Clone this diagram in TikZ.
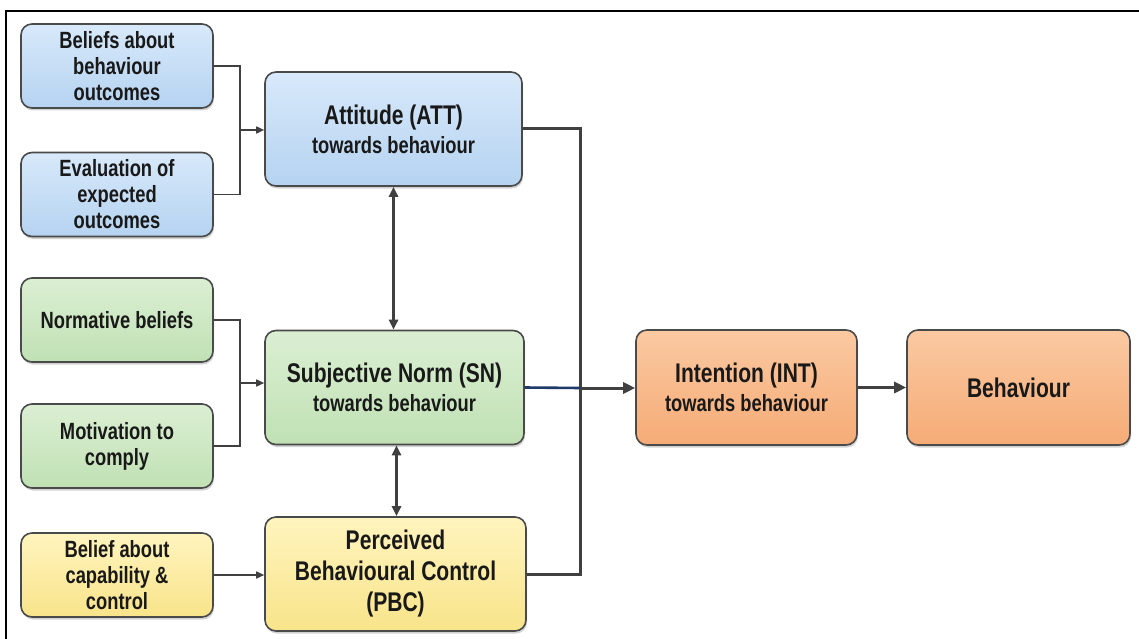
\documentclass[tikz,border=0pt]{standalone}
\usepackage{fontspec}
\setmainfont{Liberation Sans}[FakeStretch=0.78]
\usetikzlibrary{arrows.meta,shadows,calc}

\definecolor{edge}{HTML}{4A4A4A}
\definecolor{wire}{HTML}{404040}
\definecolor{navy}{HTML}{1F3A68}
\definecolor{blueA}{HTML}{D8E9FA}
\definecolor{blueB}{HTML}{B5D3F1}
\definecolor{greenA}{HTML}{DBEFD3}
\definecolor{greenB}{HTML}{C0E1B4}
\definecolor{yellowA}{HTML}{FFF4BE}
\definecolor{yellowB}{HTML}{F8E48A}
\definecolor{orangeA}{HTML}{FBC9A2}
\definecolor{orangeB}{HTML}{F5AB76}

\tikzset{
  box/.style={draw=edge, line width=1.6pt, rounded corners=11pt, align=center,
    text=black!90,
    drop shadow={shadow xshift=1pt, shadow yshift=-2.5pt, opacity=0.35}},
  smallbox/.style={box, minimum width=192pt, minimum height=84pt,
    font=\bfseries\fontsize{23.5}{26}\selectfont},
  bigbox/.style={box, minimum height=114pt},
  twoline/.style={font=\bfseries\fontsize{23.5}{29}\selectfont},
  oneline/.style={font=\bfseries\fontsize{27}{31}\selectfont},
  blue/.style={top color=blueA, bottom color=blueB},
  green/.style={top color=greenA, bottom color=greenB},
  yellow/.style={top color=yellowA, bottom color=yellowB},
  orange/.style={top color=orangeA, bottom color=orangeB},
  thinwire/.style={draw=wire, line width=1.6pt},
  thinarrow/.style={thinwire, -{Triangle[length=8pt,width=7pt]}},
  biarrow/.style={draw=wire, line width=2.6pt, {Triangle[length=10pt,width=9pt]}-{Triangle[length=10pt,width=9pt]}},
  thickwire/.style={draw=wire, line width=3pt},
  thickarrow/.style={thickwire, -{Triangle[length=12pt,width=11pt]}}
}
\newcommand{\headline}[1]{{\fontsize{27}{29}\selectfont #1}}

\begin{document}
\begin{tikzpicture}[x=1pt, y=-1pt]
  % canvas and frame edges
  \fill[white] (0,0) rectangle (1139,639);
  \useasboundingbox (0,0) rectangle (1139,639);
  \draw[black, line width=2.2pt] (6,639) -- (6,11) -- (1139,11);

  % left column: belief boxes
  \node[smallbox, blue] (bo) at (117,66) {Beliefs about\\behaviour\\outcomes};
  \node[smallbox, blue] (eo) at (117,194.5) {Evaluation of\\expected\\outcomes};
  \node[smallbox, green] (nb) at (117,320) {Normative beliefs};
  \node[smallbox, green] (mc) at (117,446) {Motivation to\\comply};
  \node[smallbox, yellow] (bc) at (117,575) {Belief about\\capability \&\\control};

  % middle column: constructs
  \node[bigbox, blue, twoline, minimum width=257pt] (att) at (393.5,129)
    {\headline{Attitude (ATT)}\\towards behaviour};
  \node[bigbox, green, twoline, minimum width=259pt] (sn) at (394.5,387.5)
    {\headline{Subjective Norm (SN)}\\towards behaviour};
  \node[bigbox, yellow, oneline, minimum width=261pt] (pbc) at (395.5,574)
    {Perceived\\Behavioural Control\\(PBC)};

  % right column: intention and behaviour
  \node[bigbox, orange, twoline, minimum width=221pt, minimum height=115pt] (int) at (746.5,387.5)
    {\headline{Intention (INT)}\\towards behaviour};
  \node[bigbox, orange, oneline, minimum width=223pt, minimum height=115pt] (beh) at (1018.5,387.5)
    {Behaviour};

  % junction points
  \coordinate (ja) at (240,130);
  \coordinate (jn) at (240,383);
  \coordinate (jx) at (580,388);

  % belief brackets
  \draw[thinwire] (bo.east) -| (ja) |- (eo.east);
  \draw[thinarrow] (ja) -- (ja -| att.west);
  \draw[thinwire] (nb.east) -| (jn) |- (mc.east);
  \draw[thinarrow] (jn) -- (jn -| sn.west);
  \draw[thinarrow] (bc.east) -- (bc.east -| pbc.west);

  % correlations between constructs
  \draw[biarrow] (att.south) -- (att.south |- sn.north);
  \draw[biarrow] ($(sn.south)+(2,0)$) -- ($(sn.south |- pbc.north)+(2,0)$);

  % paths to intention
  \draw[thickwire] (att.east) -| (jx);
  \draw[thickwire] (pbc.east) -| (jx);
  \draw[navy, line width=2.6pt] (sn.east) -- (jx);
  \draw[thickarrow] (jx) -- (jx -| int.west);
  \draw[thickarrow] (int.east) -- (beh.west);
\end{tikzpicture}
\end{document}
